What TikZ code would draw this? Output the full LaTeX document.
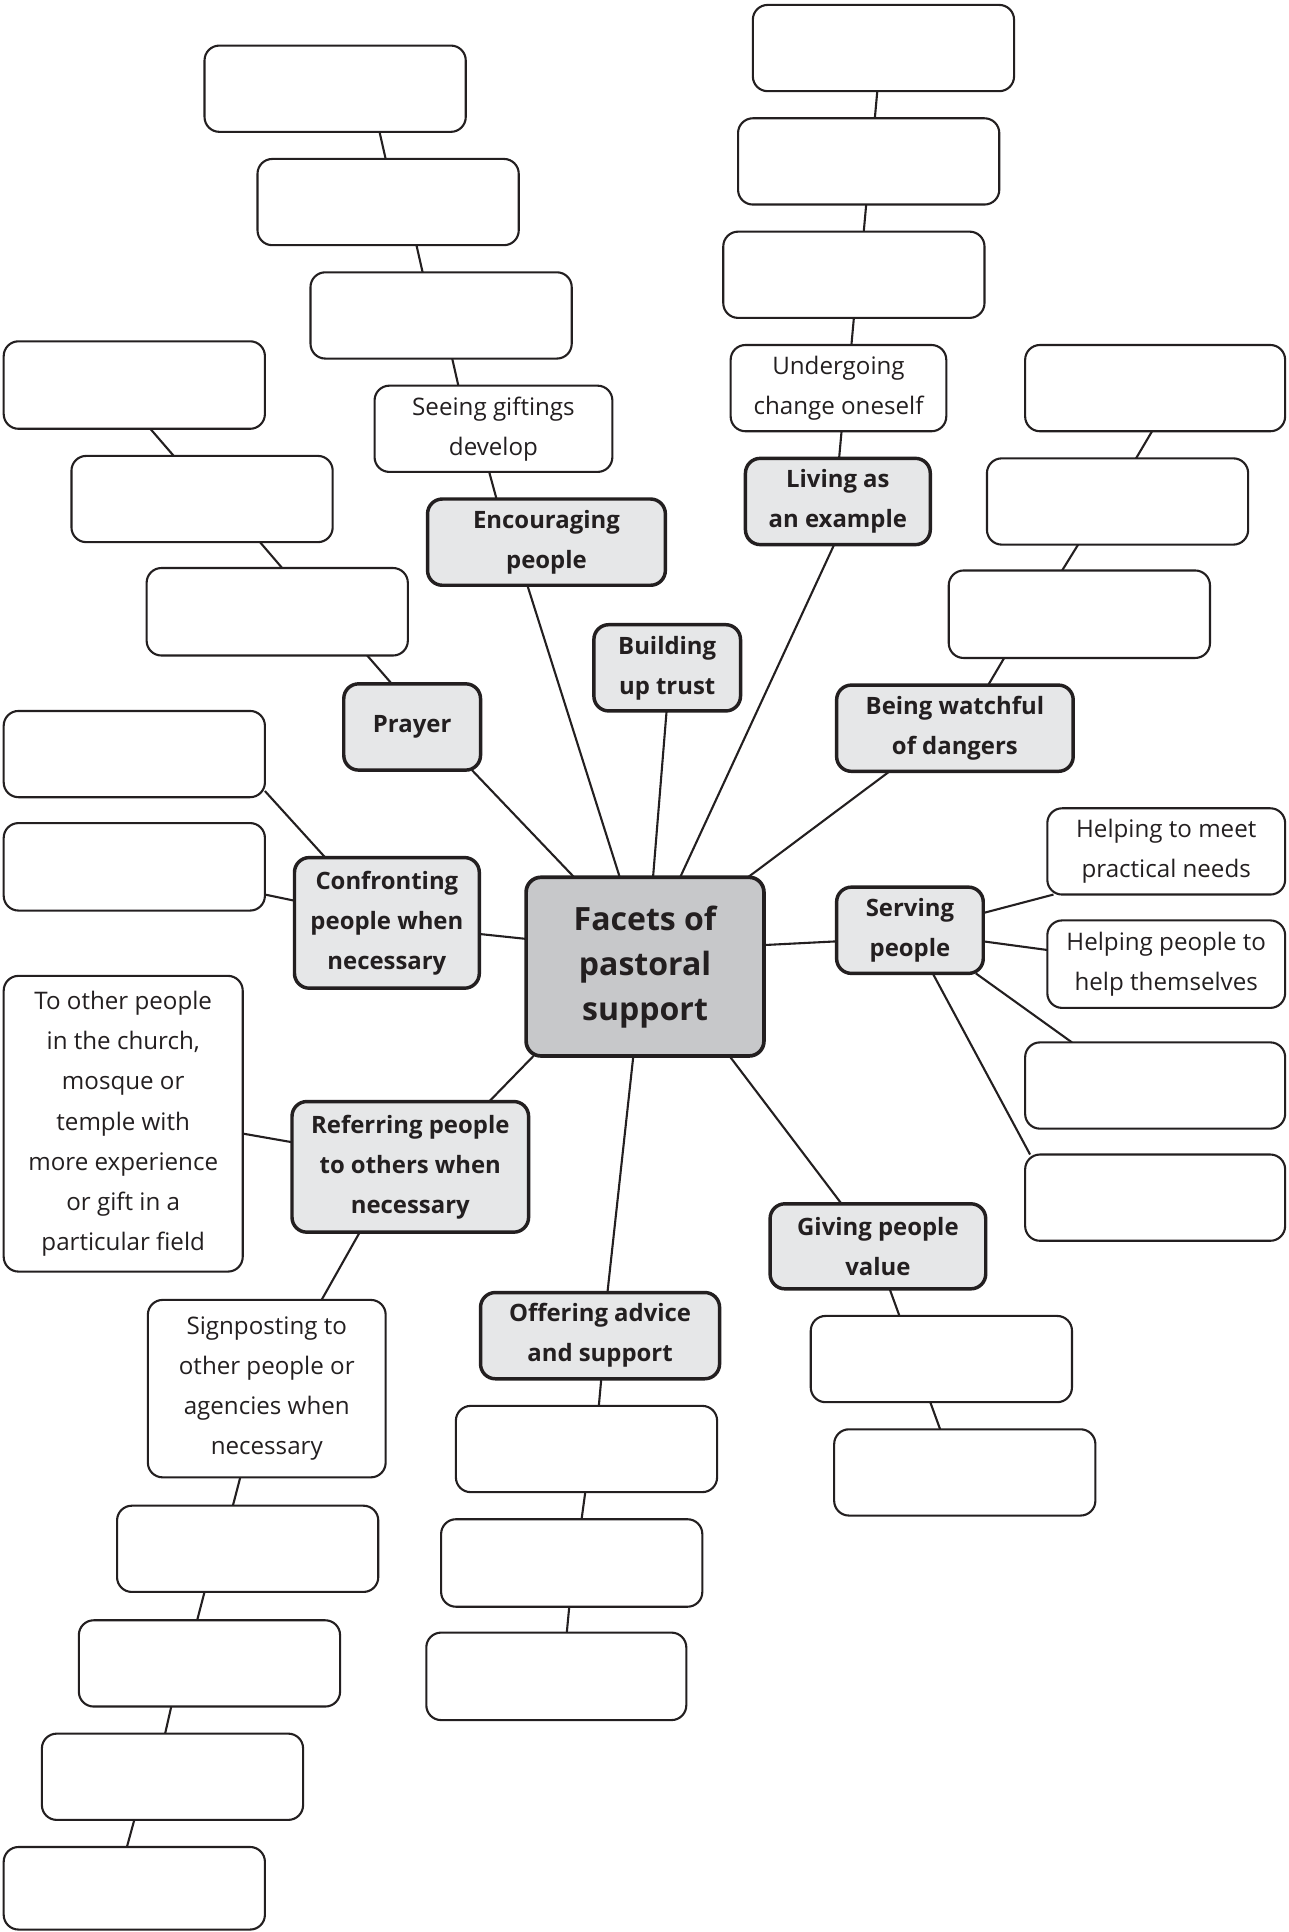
\documentclass[tikz,border=0pt]{standalone}
\usepackage{fontspec}
\setmainfont{Open Sans}
\usetikzlibrary{backgrounds}
\definecolor{ink}{HTML}{231F20}
\definecolor{boxgrey}{HTML}{E6E7E8}
\definecolor{centgrey}{HTML}{C7C8CA}
\newcommand{\mybox}[7]{%
  \pgfmathsetmacro\mbw{#4-#2}\pgfmathsetmacro\mbh{#5-#3}%
  \pgfmathsetmacro\mbx{(#2+#4)/2}\pgfmathsetmacro\mby{(#3+#5)/2}%
  \node[#6, minimum width=\mbw pt, minimum height=\mbh pt] (#1) at (\mbx,\mby) {#7};}
\tikzset{
  basebox/.style={rectangle, rounded corners=12pt, draw=ink, inner sep=0pt, outer sep=0pt, align=center, text=ink},
  blank/.style={basebox, line width=1.7pt, fill=white, font=\fontsize{19.6}{32.5}\selectfont},
  facet/.style={basebox, line width=2.8pt, fill=boxgrey, font=\bfseries\fontsize{19.4}{32.5}\selectfont},
  hub/.style={basebox, line width=3pt, fill=centgrey, font=\bfseries\fontsize{26}{36.5}\selectfont},
  conn/.style={draw=ink, line width=1.7pt}
}
\begin{document}
\begin{tikzpicture}[x=1pt,y=-1pt]
\useasboundingbox (0,0) rectangle (1046,1568);
% Encouraging chain
\mybox{E4}{166}{37}{378}{107}{blank}{}
\mybox{E3}{209}{129}{421}{199}{blank}{}
\mybox{E2}{252}{221}{464}{291}{blank}{}
\mybox{E1}{304}{313}{497}{383}{blank}{Seeing giftings\\develop}
\mybox{ENC}{347}{405}{540}{475}{facet}{Encouraging\\people}
% Living chain
\mybox{L4}{611}{4}{823}{74}{blank}{}
\mybox{L3}{599}{96}{811}{166}{blank}{}
\mybox{L2}{587}{188}{799}{258}{blank}{}
\mybox{L1}{593}{280}{768}{350}{blank}{Undergoing\\change oneself}
\mybox{LIV}{605}{372}{755}{442}{facet}{Living as\\an example}
% Prayer chain
\mybox{P3}{3}{277}{215}{348}{blank}{}
\mybox{P2}{58}{370}{270}{440}{blank}{}
\mybox{P1}{119}{461}{331}{532}{blank}{}
\mybox{PRA}{279}{555}{390}{625}{facet}{Prayer}
% Building
\mybox{BUI}{482}{507}{601}{577}{facet}{Building\\up trust}
% Watchful chain
\mybox{W3}{832}{280}{1043}{350}{blank}{}
\mybox{W2}{801}{372}{1013}{442}{blank}{}
\mybox{W1}{770}{463}{982}{534}{blank}{}
\mybox{WAT}{679}{556}{871}{626}{facet}{Being watchful\\of dangers}
% Confronting
\mybox{C1}{3}{577}{215}{647}{blank}{}
\mybox{C2}{3}{668}{215}{739}{blank}{}
\mybox{CON}{239}{696}{389}{802}{facet}{Confronting\\people when\\necessary}
% Centre
\mybox{CEN}{427}{712}{620}{857}{hub}{\raisebox{9pt}{\begin{tabular}{@{}c@{}}Facets of\\pastoral\\support\end{tabular}}}
% Serving
\mybox{SER}{679}{720}{798}{790}{facet}{Serving\\people}
\mybox{S1}{850}{656}{1043}{726}{blank}{Helping to meet\\practical needs}
\mybox{S2}{850}{747}{1043}{818}{blank}{Helping people to\\help themselves}
\mybox{S3}{832}{846}{1043}{916}{blank}{}
\mybox{S4}{832}{937}{1043}{1007}{blank}{}
% Referring
\mybox{REF}{237}{894}{429}{1000}{facet}{Referring people\\to others when\\necessary}
\mybox{OTH}{3}{792}{197}{1032}{blank}{To other people\\in the church,\\mosque or\\temple with\\more experience\\or gift in a\\particular field}
\mybox{SIG}{120}{1055}{313}{1199}{blank}{Signposting to\\other people or\\agencies when\\necessary}
\mybox{R1}{95}{1222}{307}{1292}{blank}{}
\mybox{R2}{64}{1315}{276}{1385}{blank}{}
\mybox{R3}{34}{1407}{246}{1477}{blank}{}
\mybox{R4}{3}{1499}{215}{1566}{blank}{}
% Offering
\mybox{OFF}{390}{1049}{584}{1119}{facet}{Offering advice\\and support}
\mybox{O1}{370}{1141}{582}{1211}{blank}{}
\mybox{O2}{358}{1233}{570}{1304}{blank}{}
\mybox{O3}{346}{1325}{557}{1396}{blank}{}
% Giving
\mybox{GIV}{625}{977}{800}{1046}{facet}{Giving people\\value}
\mybox{G1}{658}{1068}{870}{1138}{blank}{}
\mybox{G2}{677}{1160}{889}{1230}{blank}{}

\begin{scope}[on background layer]
\fill[white] (0,0) rectangle (1046,1568);
\draw[conn] ([xshift=142pt]E4.south west) -- ([xshift=104pt]E3.north west);
\draw[conn] ([xshift=129pt]E3.south west) -- ([xshift=91pt]E2.north west);
\draw[conn] ([xshift=115pt]E2.south west) -- ([xshift=68pt]E1.north west);
\draw[conn] ([xshift=93pt]E1.south west) -- ([xshift=56pt]ENC.north west);
\draw[conn] ([xshift=81pt]ENC.south west) -- ([xshift=76pt]CEN.north west);
\draw[conn] ([xshift=101pt]L4.south west) -- ([xshift=111pt]L3.north west);
\draw[conn] ([xshift=104pt]L3.south west) -- ([xshift=114pt]L2.north west);
\draw[conn] ([xshift=106pt]L2.south west) -- ([xshift=98pt]L1.north west);
\draw[conn] ([xshift=90pt]L1.south west) -- ([xshift=76pt]LIV.north west);
\draw[conn] ([xshift=72pt]LIV.south west) -- ([xshift=125pt]CEN.north west);
\draw[conn] ([xshift=119pt]P3.south west) -- ([xshift=83pt]P2.north west);
\draw[conn] ([xshift=153pt]P2.south west) -- ([xshift=110pt]P1.north west);
\draw[conn] ([xshift=179pt]P1.south west) -- ([xshift=39pt]PRA.north west);
\draw[conn] ([xshift=104pt]PRA.south west) -- ([xshift=39pt]CEN.north west);
\draw[conn] ([xshift=59pt]BUI.south west) -- ([xshift=103pt]CEN.north west);
\draw[conn] ([xshift=103pt]W3.south west) -- ([xshift=121pt]W2.north west);
\draw[conn] ([xshift=74pt]W2.south west) -- ([xshift=92pt]W1.north west);
\draw[conn] ([xshift=45pt]W1.south west) -- ([xshift=123pt]WAT.north west);
\draw[conn] ([xshift=43pt]WAT.south west) -- ([xshift=180pt]CEN.north west);
\draw[conn] ([yshift=-65pt]C1.north east) -- ([xshift=25pt]CON.north west);
\draw[conn] ([yshift=-58pt]C2.north east) -- ([yshift=-35pt]CON.north west);
\draw[conn] ([yshift=-62pt]CON.north east) -- ([yshift=-50pt]CEN.north west);
\draw[conn] ([yshift=-55pt]CEN.north east) -- ([yshift=-44pt]SER.north west);
\draw[conn] ([yshift=-21pt]SER.north east) -- ([xshift=5pt]S1.south west);
\draw[conn] ([yshift=-44pt]SER.north east) -- ([yshift=-24pt]S2.north west);
\draw[conn] ([xshift=113pt]SER.south west) -- ([xshift=38pt]S3.north west);
\draw[conn] ([xshift=78pt]SER.south west) -- ([xshift=4pt]S4.north west);
\draw[conn] ([xshift=6pt]CEN.south west) -- ([xshift=160pt]REF.north west);
\draw[conn] ([yshift=-33pt]REF.north west) -- ([yshift=-128pt]OTH.north east);
\draw[conn] ([xshift=55pt]REF.south west) -- ([xshift=141pt]SIG.north west);
\draw[conn] ([xshift=75pt]SIG.south west) -- ([xshift=94pt]R1.north west);
\draw[conn] ([xshift=71pt]R1.south west) -- ([xshift=96pt]R2.north west);
\draw[conn] ([xshift=75pt]R2.south west) -- ([xshift=100pt]R3.north west);
\draw[conn] ([xshift=75pt]R3.south west) -- ([xshift=100pt]R4.north west);
\draw[conn] ([xshift=87pt]CEN.south west) -- ([xshift=103pt]OFF.north west);
\draw[conn] ([xshift=98pt]OFF.south west) -- ([xshift=116pt]O1.north west);
\draw[conn] ([xshift=105pt]O1.south west) -- ([xshift=114pt]O2.north west);
\draw[conn] ([xshift=104pt]O2.south west) -- ([xshift=114pt]O3.north west);
\draw[conn] ([xshift=165pt]CEN.south west) -- ([xshift=58pt]GIV.north west);
\draw[conn] ([xshift=97pt]GIV.south west) -- ([xshift=72pt]G1.north west);
\draw[conn] ([xshift=97pt]G1.south west) -- ([xshift=86pt]G2.north west);
\end{scope}
\end{tikzpicture}
\end{document}
